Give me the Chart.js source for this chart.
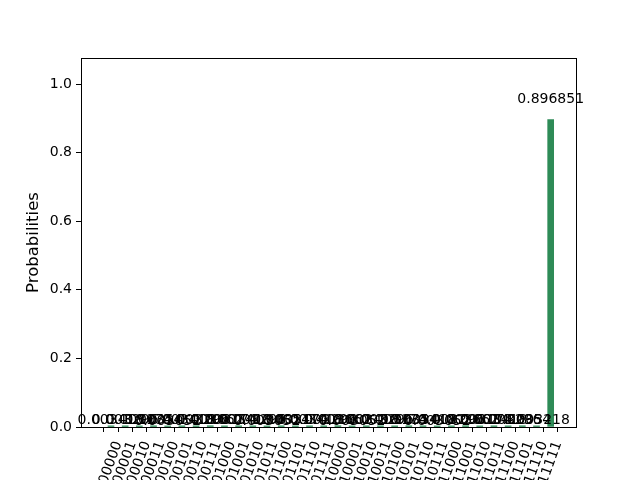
<!DOCTYPE html>
<html>
<head>
<meta charset="utf-8">
<script src="https://cdn.jsdelivr.net/npm/chart.js@4"></script>
<style>
  html, body { margin: 0; padding: 0; background: #fff; }
  #wrap { width: 640px; height: 480px; }
</style>
</head>
<body>
<div id="wrap"><canvas id="hist" width="640" height="480"></canvas></div>
<script>
const states = ['00000', '00001', '00010', '00011', '00100', '00101', '00110', '00111',
  '01000', '01001', '01010', '01011', '01100', '01101', '01110', '01111',
  '10000', '10001', '10010', '10011', '10100', '10101', '10110', '10111',
  '11000', '11001', '11010', '11011', '11100', '11101', '11110', '11111'];
const probabilities = [0.003418, 0.003296, 0.003174, 0.003540, 0.003052, 0.003418, 0.003296, 0.003662,
  0.003174, 0.003418, 0.003296, 0.003052, 0.003540, 0.003174, 0.003418, 0.003296,
  0.003662, 0.003052, 0.003418, 0.003296, 0.003174, 0.003540, 0.003418, 0.003052,
  0.003296, 0.003662, 0.003174, 0.003418, 0.003296, 0.003540, 0.003218, 0.896851];
const yTicks = [0, 0.2, 0.4, 0.6, 0.8, 1.0];

const font = 'DejaVu Sans';

// value text above each bar, like the matplotlib annotations
const barLabels = {
  id: 'barLabels',
  afterDatasetsDraw(chart) {
    const ctx = chart.ctx;
    const xs = chart.scales.x, ys = chart.scales.y;
    ctx.save();
    ctx.font = '14px "' + font + '"';
    ctx.fillStyle = '#000';
    ctx.textAlign = 'center';
    ctx.textBaseline = 'bottom';
    probabilities.forEach((p, i) => {
      ctx.fillText(p.toFixed(6).replace(/0+$/, ''), xs.getPixelForValue(i), ys.getPixelForValue(p * 1.05) + 2);
    });
    ctx.restore();
  },
  afterDraw(chart) {
    const a = chart.chartArea, ctx = chart.ctx;
    ctx.save();
    ctx.strokeStyle = '#000';
    ctx.lineWidth = 1;
    ctx.strokeRect(a.left + 0.5, a.top + 0.5, a.right - a.left, a.bottom - a.top);
    ctx.restore();
  }
};

new Chart(document.getElementById('hist'), {
  type: 'bar',
  data: {
    datasets: [{
      data: probabilities.map((p, i) => ({ x: i, y: p })),
      backgroundColor: '#2e8b57',
      barThickness: 6
    }]
  },
  options: {
    responsive: false,
    animation: false,
    layout: { padding: { left: 0, right: 64, top: 58, bottom: 0 } },
    plugins: { legend: { display: false }, tooltip: { enabled: false } },
    scales: {
      x: {
        type: 'linear',
        min: -1.568,
        max: 32.24,
        afterBuildTicks: s => { s.ticks = states.map((_, i) => ({ value: i })); },
        afterFit: s => { s.height = 53; },
        grid: { drawOnChartArea: false, drawTicks: true, tickLength: 5, color: '#000' },
        border: { color: '#000' },
        ticks: {
          autoSkip: false,
          minRotation: 70,
          maxRotation: 70,
          padding: 7,
          labelOffset: 7.5,
          color: '#000',
          font: { family: font, size: 14 },
          callback: v => states[v]
        }
      },
      y: {
        min: 0,
        max: 1.0762,
        afterBuildTicks: s => { s.ticks = yTicks.map(v => ({ value: v })); },
        afterFit: s => { s.width = 81; },
        grid: { drawOnChartArea: false, drawTicks: true, tickLength: 5, color: '#000' },
        border: { color: '#000' },
        title: { display: true, text: 'Probabilities', color: '#000', font: { family: font, size: 16.5 }, padding: { top: 24, bottom: 0 } },
        ticks: {
          color: '#000',
          padding: 4,
          font: { family: font, size: 14 },
          callback: v => v.toFixed(1)
        }
      }
    }
  },
  plugins: [barLabels]
});
</script>
</body>
</html>
